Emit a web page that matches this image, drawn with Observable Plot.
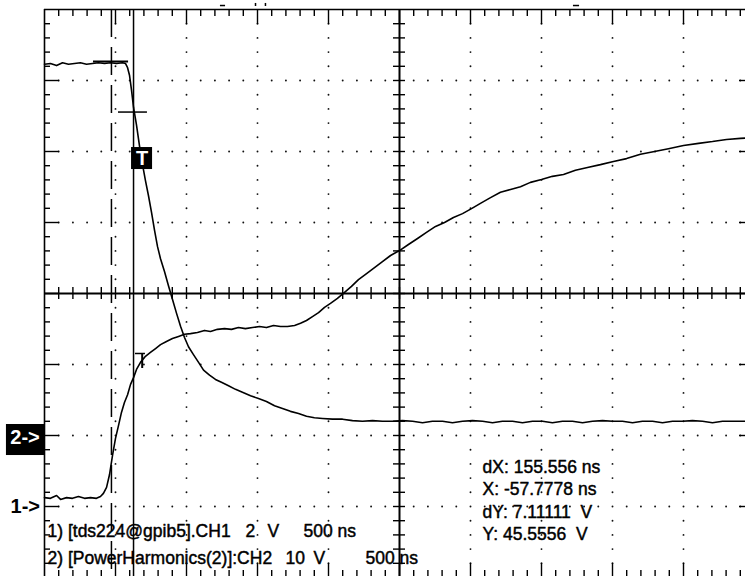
<!DOCTYPE html>
<html><head><meta charset="utf-8">
<script src="https://cdn.jsdelivr.net/npm/d3@7"></script>
<script src="https://cdn.jsdelivr.net/npm/@observablehq/plot@0.6"></script>
<style>
html,body{margin:0;padding:0;background:#fff;overflow:hidden;}
#chart svg{display:block;overflow:hidden;}
</style></head><body><div id="chart"></div>
<script>
// ---- data (time in ns, values in volts) ----
const ch1Samples = [[-2500,0.25],[-2458,0.23],[-2415,0.31],[-2387,0.20],[-2345,0.25],[-2303,0.23],[-2261,0.28],[-2218,0.23],[-2176,0.25],[-2134,0.23],[-2106,0.28],[-2085,0.37],[-2063,0.54],[-2042,0.90],[-2021,1.44],[-2000,1.92],[-1979,2.28],[-1958,2.65],[-1937,2.93],[-1915,3.15],[-1894,3.44],[-1873,3.63],[-1852,3.86],[-1824,4.06],[-1789,4.23],[-1754,4.34],[-1718,4.45],[-1683,4.56],[-1641,4.65],[-1599,4.73],[-1556,4.79],[-1514,4.85],[-1472,4.87],[-1423,4.90],[-1373,4.96],[-1331,4.93],[-1282,4.99],[-1232,5.01],[-1183,4.99],[-1134,5.04],[-1085,5.01],[-1035,5.04],[-986,5.07],[-937,5.04],[-887,5.10],[-838,5.07],[-789,5.07],[-739,5.10],[-697,5.16],[-655,5.24],[-613,5.35],[-570,5.46],[-528,5.61],[-486,5.72],[-437,5.86],[-387,6.03],[-338,6.20],[-289,6.39],[-232,6.56],[-176,6.73],[-120,6.90],[-63,7.07],[0,7.21],[63,7.38],[127,7.55],[190,7.72],[254,7.89],[317,8.00],[380,8.14],[444,8.25],[507,8.39],[570,8.54],[641,8.70],[711,8.85],[782,8.93],[852,9.01],[922,9.13],[1000,9.21],[1077,9.30],[1155,9.35],[1239,9.47],[1324,9.55],[1415,9.63],[1507,9.72],[1599,9.80],[1697,9.92],[1796,10.00],[1894,10.08],[2000,10.17],[2106,10.23],[2204,10.28],[2303,10.34],[2401,10.37],[2500,10.39]];
const ch2Samples = [[-2500,52.3],[-2458,52.4],[-2415,52.1],[-2373,52.5],[-2331,52.3],[-2289,52.4],[-2247,52.5],[-2204,52.3],[-2162,52.4],[-2120,52.5],[-2077,52.4],[-2035,52.5],[-1993,52.4],[-1951,52.5],[-1930,52.4],[-1915,51.8],[-1901,50.7],[-1887,48.6],[-1873,46.2],[-1852,43.7],[-1831,40.8],[-1810,38.2],[-1789,35.9],[-1768,33.8],[-1746,31.4],[-1725,28.9],[-1704,26.6],[-1683,24.9],[-1655,23.1],[-1627,21.1],[-1599,19.2],[-1570,17.2],[-1542,15.4],[-1514,13.8],[-1486,12.5],[-1451,11.4],[-1415,10.3],[-1380,9.2],[-1338,8.5],[-1296,7.9],[-1254,7.5],[-1204,7.0],[-1155,6.5],[-1106,6.1],[-1049,5.6],[-993,5.2],[-937,4.8],[-880,4.2],[-824,3.8],[-768,3.4],[-711,3.1],[-655,2.7],[-599,2.5],[-542,2.4],[-472,2.3],[-401,2.3],[-331,2.1],[-261,2.0],[-190,2.1],[-120,2.0],[-49,2.0],[21,2.1],[92,2.0],[162,1.8],[232,2.0],[303,2.0],[373,1.8],[444,2.0],[514,2.1],[585,2.0],[655,1.8],[725,2.0],[796,2.0],[866,1.8],[937,2.0],[1007,2.0],[1077,1.8],[1148,2.0],[1218,2.0],[1289,1.8],[1359,2.0],[1430,2.1],[1500,2.0],[1570,2.0],[1641,1.8],[1711,2.0],[1782,2.0],[1852,1.8],[1923,2.0],[1993,2.0],[2063,2.1],[2134,2.0],[2204,1.8],[2275,2.0],[2345,2.0],[2415,2.0],[2500,2.0]];

const channelNames = ["1) [tds224@gpib5].CH1", "2) [PowerHarmonics(2)]:CH2"];
const channelScales = [["2", "V", "500 ns"], ["10", "V", "500 ns"]];
const readouts = ["dX: 155.556 ns", "X: -57.7778 ns", "dY: 7.11111  V", "Y: 45.5556  V"];
const groundLabels = ["1->", "2->"];

const ch1VoltsPerDiv = 2, ch1GroundDiv = -3;
const ch2VoltsPerDiv = 10, ch2GroundDiv = -2;
const cursorTimes = [-2028.6, -1873];          // dashed, solid (dX = 155.556 ns)
const cursorVolts = [52.6667, 45.5556];          // CH2 horizontal cursors

// ---- layout helpers ----
const nsPerPx = 500 / 71, divPerPx = 1 / 71;
const xMinor = d3.range(-24, 25).map(k => k * 100);
const yMinor = d3.range(-19, 20).map(k => k / 5);
const xMajor = [-2000, -1500, -1000, -500, 500, 1000, 1500, 2000];
const yMajor = [-3, -2, -1, 1, 2, 3];
const isMajorX = t => t % 500 === 0;
const isMajorY = d => Math.abs(d - Math.round(d)) < 1e-9;

const gridDots = [];
for (const y of yMajor) for (const x of xMinor) if (x !== 0) gridDots.push([x, y]);
for (const x of xMajor) for (const y of yMinor) if (y !== 0 && !isMajorY(y)) gridDots.push([x, y]);

const ch1Div = v => v / ch1VoltsPerDiv + ch1GroundDiv;
const ch2Div = v => v / ch2VoltsPerDiv + ch2GroundDiv;

const font = "Liberation Sans, Arial, Helvetica, sans-serif";
const ink = "#000";

const legendItems = [
  {s: channelNames[0], x: -2479, y: -3.344},
  {s: channelScales[0][0], x: -1085, y: -3.344},
  {s: channelScales[0][1], x: -930, y: -3.344},
  {s: channelScales[0][2], x: -676, y: -3.344},
  {s: channelNames[1], x: -2479, y: -3.724},
  {s: channelScales[1][0], x: -803, y: -3.724},
  {s: channelScales[1][1], x: -606, y: -3.724},
  {s: channelScales[1][2], x: -239, y: -3.724}
];
const readoutItems = readouts.map((s, i) => ({s, x: 585, y: [-2.456, -2.766, -3.076, -3.386][i]}));

const textStyle = {fill: ink, stroke: ink, strokeWidth: 0.45, fontSize: 17.5, fontFamily: font, textAnchor: "start"};

const chart = Plot.plot({
  width: 745, height: 576,
  marginLeft: 44, marginTop: 9, marginRight: 0, marginBottom: 0,
  x: {domain: [-2500, 2500], range: [44, 754], axis: null},
  y: {domain: [-4, 4], range: [577, 9], axis: null},
  style: {background: "#fff"},
  marks: [
    // dotted graticule
    Plot.dot(gridDots, {x: d => d[0], y: d => d[1], r: 0.95, fill: "#111", stroke: null}),
    // border
    Plot.ruleX([-2500, 2500], {y1: 4, y2: -4, stroke: ink, strokeWidth: 1.6}),
    Plot.ruleY([4, -4], {x1: -2500, x2: 2500, stroke: ink, strokeWidth: 1.6}),
    // border ticks
    Plot.ruleX(xMinor, {x: d => d, y1: 4, y2: d => 4 - (isMajorX(d) ? 15 : 7) * divPerPx, stroke: ink, strokeWidth: 1.4}),
    Plot.ruleX(xMinor, {x: d => d, y1: -4, y2: d => -4 + (isMajorX(d) ? 14 : 7) * divPerPx, stroke: ink, strokeWidth: 1.4}),
    Plot.ruleY(yMinor, {y: d => d, x1: -2500, x2: d => -2500 + (isMajorY(d) ? 15 : 6) * nsPerPx, stroke: ink, strokeWidth: 1.4}),
    Plot.ruleY(yMinor, {y: d => d, x1: 2500, x2: d => 2500 - (isMajorY(d) ? 15 : 6) * nsPerPx, stroke: ink, strokeWidth: 1.4}),
    // center axes
    Plot.ruleX([0], {y1: 4, y2: -4, stroke: ink, strokeWidth: 2}),
    Plot.ruleY([0], {x1: -2500, x2: 2500, stroke: ink, strokeWidth: 2}),
    Plot.ruleX(xMinor, {x: d => d, y1: -6 * divPerPx, y2: 6 * divPerPx, stroke: ink, strokeWidth: 1.4}),
    Plot.ruleY(yMinor, {y: d => d, x1: -6 * nsPerPx, x2: 6 * nsPerPx, stroke: ink, strokeWidth: 1.4}),
    // vertical cursors
    Plot.ruleX([cursorTimes[0]], {y1: 4, y2: -4, stroke: ink, strokeWidth: 1.5, strokeDasharray: "28,10"}),
    Plot.ruleX([cursorTimes[1]], {y1: 4, y2: -4, stroke: ink, strokeWidth: 1.5}),
    // waveforms
    Plot.line(ch1Samples, {x: d => d[0], y: d => ch1Div(d[1]), stroke: ink, strokeWidth: 1.6, curve: "linear"}),
    Plot.line(ch2Samples, {x: d => d[0], y: d => ch2Div(d[1]), stroke: ink, strokeWidth: 1.6, curve: "linear"}),
    // horizontal cursor markers
    Plot.ruleY([ch2Div(cursorVolts[0])], {x1: -2155, x2: -1908, stroke: ink, strokeWidth: 2}),
    Plot.ruleY([ch2Div(cursorVolts[1])], {x1: -1979, x2: -1775, stroke: ink, strokeWidth: 1.5}),
    // trigger marker (box T)
    Plot.rect([0], {x1: -1887, x2: -1739, y1: 1.746, y2: 2.056, fill: ink}),
    Plot.text(["T"], {x: -1813, y: 1.90, fill: "#fff", fontSize: 20, fontWeight: "bold", fontFamily: font}),
    // small CH1 trigger marker
    Plot.ruleY([-0.845], {x1: -1859, x2: -1789, stroke: ink, strokeWidth: 1.5}),
    Plot.ruleX([-1812], {y1: -0.845, y2: -1.056, stroke: ink, strokeWidth: 2}),
    // tiny top indicators
    Plot.ruleY([4.056], {x1: -1261, x2: -1225, stroke: ink, strokeWidth: 1.5}),
    Plot.ruleY([4.056], {x1: 1225, x2: 1268, stroke: ink, strokeWidth: 1.5}),
    Plot.ruleX([-1014, -944], {y1: 4.085, y2: 4.042, stroke: ink, strokeWidth: 1.5}),
    // ground markers
    Plot.rect([0], {x1: -2768, x2: -2493, y1: -2.282, y2: -1.845, fill: ink}),
    Plot.text([groundLabels[1]], {x: -2637, y: -2.035, fill: "#fff", fontSize: 20, fontWeight: "bold", fontFamily: font, textAnchor: "middle"}),
    Plot.text([groundLabels[0]], {x: -2739, y: -3.007, fill: ink, fontSize: 20, fontWeight: "bold", fontFamily: font, textAnchor: "start"}),
    // legend / readouts
    Plot.text(legendItems, {x: "x", y: "y", text: "s", ...textStyle}),
    Plot.text(readoutItems, {x: "x", y: "y", text: "s", ...textStyle})
  ]
});
document.getElementById("chart").appendChild(chart);
</script></body></html>
